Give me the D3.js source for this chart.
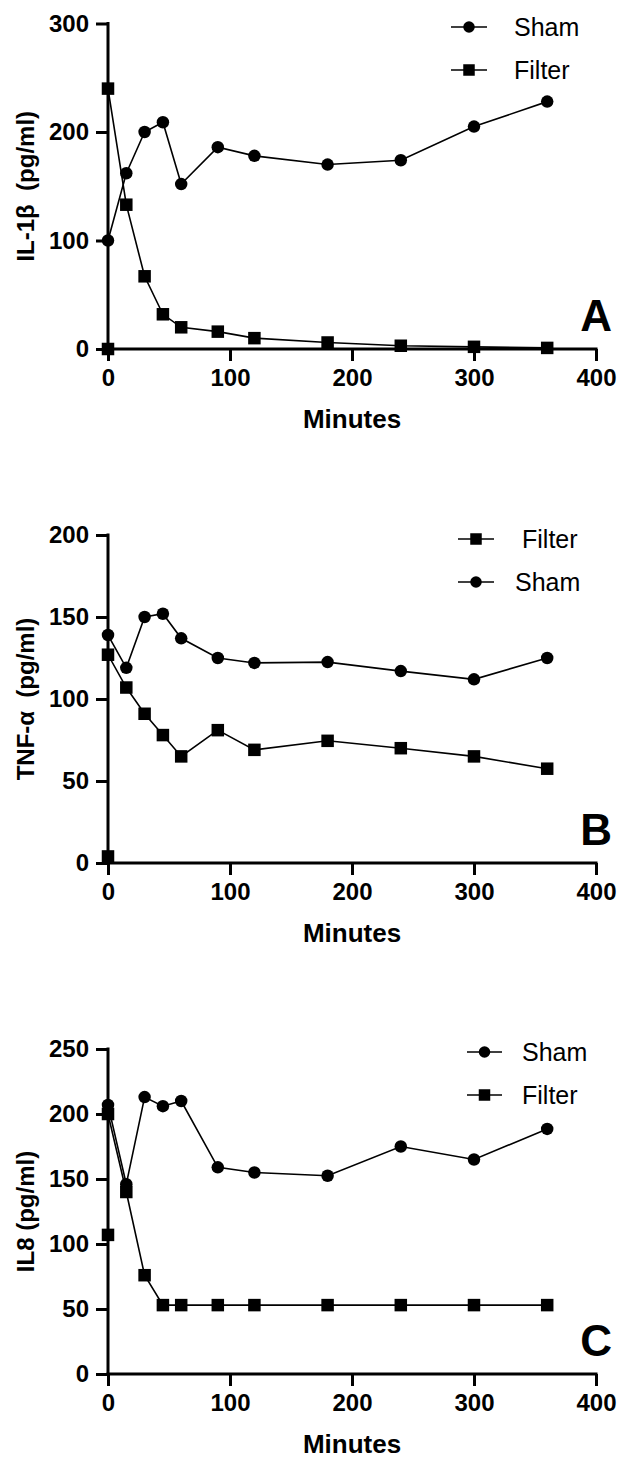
<!DOCTYPE html>
<html><head><meta charset="utf-8">
<script src="https://cdn.jsdelivr.net/npm/d3@7"></script>
<style>html,body{margin:0;padding:0;background:#fff}svg{display:block}</style>
</head><body>
<script>
// ---- data ----
const shamTimes = [0,15,30,45,60,90,120,180,240,300,360];
const filterTimes = [0,0,15,30,45,60,90,120,180,240,300,360];
const shamA = [100,162,200,209,152,186,178,170,174,205,228];
const filterA = [0,240,133,67,32,20,16,10,6,3,2,1];
const shamB = [139,119,150,152,137,125,122,122.5,117,112,125];
const filterB = [4,127,107,91,78,65,81,69,74.5,70,65,57.5];
const shamC = [207,146,213,206,210,159,155,152.5,175,165,188.5];
const filterC = [107,200,140,76,53,53,53,53,53,53,53,53];
const xTicks = [0,100,200,300,400];
const yTicksA = [0,100,200,300];
const yTicksB = [0,50,100,150,200];
const yTicksC = [0,50,100,150,200,250];
const yLabels = ["IL-1β  (pg/ml)", "TNF-α  (pg/ml)", "IL8 (pg/ml)"];
const panelLetters = ["A","B","C"];
const legendA = ["Sham","Filter"];
const legendB = ["Filter","Sham"];
const legendC = ["Sham","Filter"];
const xTitle = "Minutes";

const W=622,H=1458;
const FONT="'Liberation Sans', Arial, Helvetica, sans-serif";
const svg=d3.select("body").append("svg").attr("width",W).attr("height",H);

const panels=[
 {sham:shamA, filter:filterA, ticks:yTicksA, ymax:300, y0:349, y1:23.5, label:yLabels[0], letter:panelLetters[0],
  legend:legendA, leg:{y:27, x0:451, x1:487, tx:[514,514]}},
 {sham:shamB, filter:filterB, ticks:yTicksB, ymax:200, y0:863, y1:535, label:yLabels[1], letter:panelLetters[1],
  legend:legendB, leg:{y:539, x0:458, x1:494, tx:[522,515]}},
 {sham:shamC, filter:filterC, ticks:yTicksC, ymax:250, y0:1374, y1:1049, label:yLabels[2], letter:panelLetters[2],
  legend:legendC, leg:{y:1052, x0:467, x1:502, tx:[522,522]}}
];

const x=d3.scaleLinear().domain([0,400]).range([108,596]);

function marker(g, type, cx, cy, size){
  if(type==="Sham"){
    g.append("circle").attr("cx",cx).attr("cy",cy).attr("r",size/2).attr("fill","#000");
  } else {
    g.append("rect").attr("x",cx-size/2).attr("y",cy-size/2).attr("width",size).attr("height",size).attr("fill","#000");
  }
}

panels.forEach(p=>{
  const y=d3.scaleLinear().domain([0,p.ymax]).range([p.y0,p.y1]);
  const g=svg.append("g");
  const xa=g.append("g").attr("transform",`translate(0,${p.y0})`)
    .call(d3.axisBottom(x).tickValues(xTicks).tickSize(12).tickPadding(8).tickSizeOuter(0));
  const ya=g.append("g").attr("transform",`translate(${x(0)},0)`)
    .call(d3.axisLeft(y).tickValues(p.ticks).tickSize(12).tickPadding(7).tickSizeOuter(0));
  [xa,ya].forEach(a=>{
    a.select(".domain").attr("stroke","#000").attr("stroke-width",3);
    a.selectAll(".tick line").attr("stroke","#000").attr("stroke-width",3);
    a.selectAll(".tick text").attr("fill","#000").attr("font-family",FONT)
      .attr("font-weight","bold").attr("font-size",24);
  });
  xa.select(".domain").attr("d",`M${x(0)-1.5},0H${x(400)+1.5}`);
  ya.select(".domain").attr("d",`M0,${p.y0+1.5}V${p.y1-1.5}`);

  const line=d3.line().x(d=>x(d[0])).y(d=>y(d[1]));
  const sData=shamTimes.map((t,i)=>[t,p.sham[i]]);
  const fData=filterTimes.map((t,i)=>[t,p.filter[i]]);
  [[sData,"Sham"],[fData,"Filter"]].forEach(([d,type])=>{
    g.append("path").datum(d).attr("d",line).attr("fill","none").attr("stroke","#000").attr("stroke-width",1.6);
    d.forEach(pt=>marker(g,type,x(pt[0]),y(pt[1]),12.5));
  });

  g.append("text").attr("x",(x(0)+x(400))/2).attr("y",p.y0+79).attr("text-anchor","middle")
    .attr("font-family",FONT).attr("font-weight","bold").attr("font-size",26).text(xTitle);
  g.append("text").attr("transform",`translate(34,${(p.y0+p.y1)/2}) rotate(-90)`).attr("text-anchor","middle")
    .attr("font-family",FONT).attr("font-weight","bold").attr("font-size",24).style("white-space","pre").text(p.label);
  g.append("text").attr("x",612).attr("y",p.y0-18).attr("text-anchor","end")
    .attr("font-family",FONT).attr("font-weight","bold").attr("font-size",44).text(p.letter);
  p.legend.forEach((name,i)=>{
    const ly=p.leg.y+i*43;
    g.append("line").attr("x1",p.leg.x0).attr("x2",p.leg.x1).attr("y1",ly).attr("y2",ly).attr("stroke","#000").attr("stroke-width",1.6);
    marker(g,name,(p.leg.x0+p.leg.x1)/2,ly,11.5);
    g.append("text").attr("x",p.leg.tx[i]).attr("y",ly+9).attr("font-family",FONT).attr("font-size",25).attr("fill","#000").text(name);
  });
});
</script>
</body></html>
